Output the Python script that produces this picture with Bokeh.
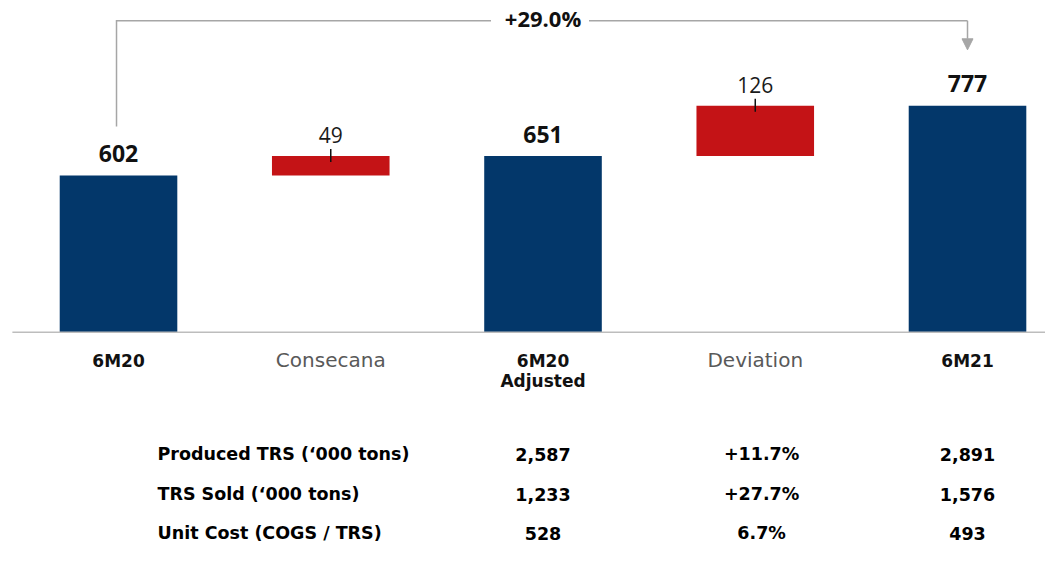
from bokeh.plotting import figure
from bokeh.models import Range1d, Arrow, NormalHead
from bokeh.core.properties import value
from bokeh.embed import file_html
from bokeh.resources import INLINE

# ---------------- data ----------------
categories = ["6M20", "Consecana", "6M20\nAdjusted", "Deviation", "6M21"]
values = [602, 49, 651, 126, 777]
kinds = ["total", "delta", "total", "delta", "total"]
growth_label = "+29.0%"

table_rows = ["Produced TRS (\u2018000 tons)", "TRS Sold (\u2018000 tons)", "Unit Cost (COGS / TRS)"]
col_6m20_adj = ["2,587", "1,233", "528"]
col_deviation = ["+11.7%", "+27.7%", "6.7%"]
col_6m21 = ["2,891", "1,576", "493"]

# ---------------- layout ----------------
W, H = 1045, 545
X0 = -0.556
X1 = X0 + W / 212.25
Y0, Y1 = -326.9, 1041.4
AXIS_FLOOR = 208.6
KX = W / (X1 - X0)
KY = H / (Y1 - Y0)


def dx(px):
    return px / KX


def dy(px):
    return px / KY


def bl(y, fs):
    # place the alphabetic baseline of a text of size fs at data y
    return y + dy(0.41 * fs)


NAVY = "#03376A"
RED = "#C41316"
GREY = "#A6A6A6"
AXIS_GREY = "#BDBDBD"

p = figure(width=W, height=H, x_range=Range1d(X0, X1), y_range=Range1d(Y0, Y1),
           output_backend="svg", toolbar_location=None, tools="",
           x_axis_location=None, y_axis_location=None, min_border=0)
p.grid.visible = False
p.outline_line_color = None
p.background_fill_color = "white"
p.border_fill_color = "white"

# waterfall geometry from data
xs = list(range(len(values)))
bottoms, tops, colors = [], [], []
running = None
for v, k in zip(values, kinds):
    if k == "total":
        bottoms.append(AXIS_FLOOR)
        tops.append(v)
        colors.append(NAVY)
        running = v
    else:
        bottoms.append(running)
        tops.append(running + v)
        colors.append(RED)
        running = running + v

p.vbar(x=xs, bottom=bottoms, top=tops, width=0.554, fill_color=colors, line_color=None)

# baseline
p.line(x=[-0.5, X1 + 0.1], y=[AXIS_FLOOR, AXIS_FLOOR], line_color=AXIS_GREY, line_width=1.5)

# value labels
tot_x = [x for x, k in zip(xs, kinds) if k == "total"]
tot_y = [bl(t + dy(12.5), 23) for t, k in zip(tops, kinds) if k == "total"]
tot_t = [str(v) for v, k in zip(values, kinds) if k == "total"]
p.text(x=tot_x, y=tot_y, text=tot_t, text_font=value("Open Sans"), text_font_style="bold",
       text_font_size="23px", text_align="center", text_baseline="alphabetic", text_color="#111111")

del_x = [x for x, k in zip(xs, kinds) if k == "delta"]
del_top = [t for t, k in zip(tops, kinds) if k == "delta"]
del_t = [str(v) for v, k in zip(values, kinds) if k == "delta"]
p.text(x=del_x, y=[bl(t + dy(12.5), 21) for t in del_top], text=del_t, text_font=value("Open Sans"),
       text_font_size="21px", text_align="center", text_baseline="alphabetic", text_color="#1a1a1a")
p.segment(x0=del_x, x1=del_x, y0=[t + dy(7) for t in del_top], y1=[t - dy(6) for t in del_top],
          line_color="#111111", line_width=1.5)

# bracket with growth
first_top = tops[0]
last_top = tops[-1]
br_y = last_top + dy(85)
leg_bottom = first_top + dy(49)
tip_y = last_top + dy(56)
p.line(x=[xs[0] - dx(2), xs[0] - dx(2), 2 - dx(52)], y=[leg_bottom, br_y, br_y],
       line_color=GREY, line_width=1.5, line_join="miter")
p.line(x=[2 + dx(46), xs[-1]], y=[br_y, br_y], line_color=GREY, line_width=1.5)
p.add_layout(Arrow(x_start=xs[-1], y_start=br_y, x_end=xs[-1], y_end=tip_y,
                   line_color=GREY, line_width=1.5,
                   end=NormalHead(size=11, fill_color=GREY, line_color=GREY, line_width=1)))
p.text(x=[2], y=[bl(br_y - dy(6), 22)], text=[growth_label], text_font=value("Open Sans"),
       text_font_style="bold", text_font_size="22px", text_align="center",
       text_baseline="alphabetic", text_color="#111111")

# category labels
line1 = [c.split("\n")[0] for c in categories]
line2 = [c.split("\n")[1] if "\n" in c else "" for c in categories]
b_idx = [i for i, k in enumerate(kinds) if k == "total"]
r_idx = [i for i, k in enumerate(kinds) if k == "delta"]
cat_y = AXIS_FLOOR - dy(36)
p.text(x=b_idx, y=[bl(cat_y, 17)] * len(b_idx), text=[line1[i] for i in b_idx],
       text_font=value("DejaVu Sans"), text_font_style="bold", text_font_size="17px",
       text_align="center", text_baseline="alphabetic", text_color="#111111")
p.text(x=b_idx, y=[bl(cat_y - dy(20), 17)] * len(b_idx), text=[line2[i] for i in b_idx],
       text_font=value("DejaVu Sans"), text_font_style="bold", text_font_size="17px",
       text_align="center", text_baseline="alphabetic", text_color="#111111")
p.text(x=r_idx, y=[bl(cat_y, 20)] * len(r_idx), text=[line1[i] for i in r_idx],
       text_font=value("DejaVu Sans"), text_font_size="20px",
       text_align="center", text_baseline="alphabetic", text_color="#595959")

# table
row_y = [bl(AXIS_FLOOR - dy(off), 17.5) for off in (129.3, 169.3, 208.3)]
p.text(x=[dx(157 - 118)] * 3, y=row_y, text=table_rows, text_font=value("DejaVu Sans"),
       text_font_style="bold", text_font_size="17.5px", text_align="left",
       text_baseline="alphabetic", text_color="#000000")
for cx, col in zip([2.0, 3.03, 4.0], [col_6m20_adj, col_deviation, col_6m21]):
    p.text(x=[cx] * 3, y=row_y, text=col, text_font=value("DejaVu Sans"),
           text_font_style="bold", text_font_size="17.5px", text_align="center",
           text_baseline="alphabetic", text_color="#000000")

open("out.html", "w").write(file_html(p, INLINE))
